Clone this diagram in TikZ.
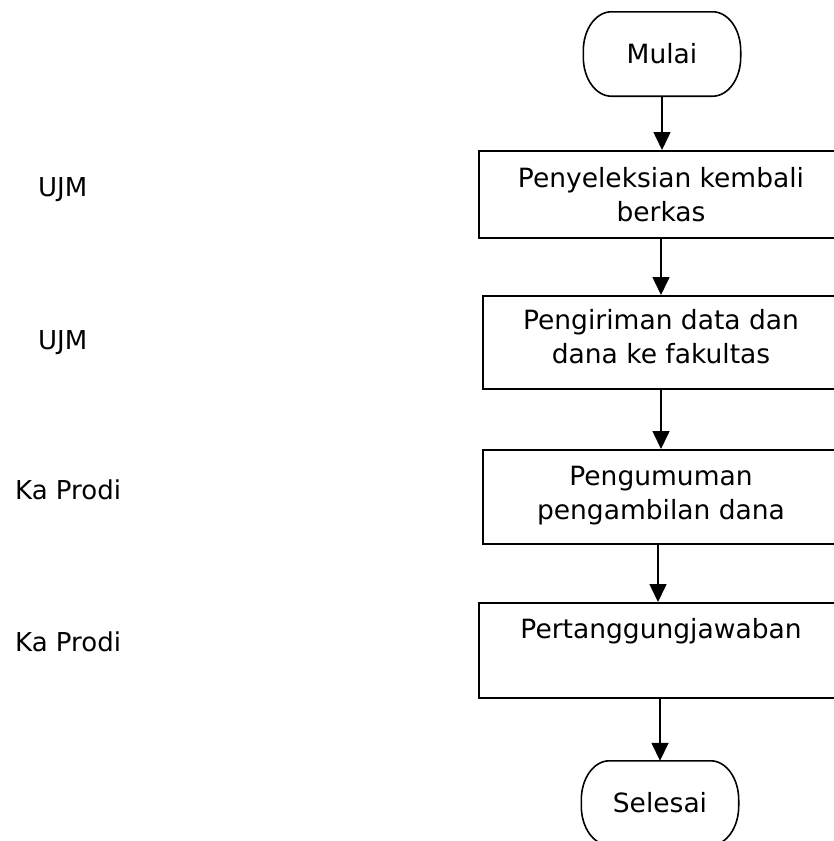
\documentclass[tikz,border=0pt]{standalone}
\usepackage{fontspec}
\setmainfont{DejaVu Sans}
\usetikzlibrary{arrows.meta}
\begin{document}
\begin{tikzpicture}[x=1pt,y=-1pt,
  every node/.style={font=\fontsize{26.5}{34}\selectfont},
  term/.style={minimum width=157pt, minimum height=84pt, inner sep=0pt},
  termline/.style={line width=1.6pt},
  procbox/.style={draw, line width=1.6pt, inner sep=0pt, anchor=north west},
  lbl/.style={anchor=base west, inner sep=0pt, font=\fontsize{26}{30}\selectfont},
  txt/.style={align=center, inner sep=0pt},
  flow/.style={-{Triangle[width=17pt,length=18pt]}, line width=1.6pt},
  crx/.store in=\crx, crx=28pt,
  cry/.store in=\cry, cry=39pt]
\useasboundingbox (0,0) rectangle (834,841);
\clip (0,0) rectangle (834,841);

% terminals
\node[term] (m) at (662,54) {Mulai};
\node[term] (s) at (660,803) {Selesai};
\foreach \t in {m,s}{
  \draw[termline] ([xshift=\crx]\t.north west) -- ([xshift=-\crx]\t.north east)
    arc[start angle=90, end angle=0, x radius=\crx, y radius=\cry]
    -- ([yshift=\cry]\t.south east)
    arc[start angle=0, end angle=-90, x radius=\crx, y radius=\cry]
    -- ([xshift=\crx]\t.south west)
    arc[start angle=270, end angle=180, x radius=\crx, y radius=\cry]
    -- ([yshift=-\cry]\t.north west)
    arc[start angle=180, end angle=90, x radius=\crx, y radius=\cry]
    -- cycle;
}

% process boxes (right edges run past the picture)
\node[procbox, minimum width=372pt, minimum height=87pt] (b1) at (478,150) {};
\node[procbox, minimum width=368pt, minimum height=93pt] (b2) at (482,295) {};
\node[procbox, minimum width=368pt, minimum height=94pt] (b3) at (482,449) {};
\node[procbox, minimum width=372pt, minimum height=95pt] (b4) at (478,602) {};

% box texts
\node[txt, anchor=north] (t1) at (661,167) {Penyeleksian kembali\\berkas};
\node[txt, anchor=north] (t2) at (661,309) {Pengiriman data dan\\dana ke fakultas};
\node[txt, anchor=north] (t3) at (661,466) {Pengumuman\\pengambilan dana};
\node[txt, anchor=base] (t4) at (661,638) {Pertanggungjawaban};

% left labels
\node[lbl] (l1) at (38,196) {UJM};
\node[lbl] (l2) at (38,349) {UJM};
\node[lbl] (l3) at (15,499) {Ka Prodi};
\node[lbl] (l4) at (15,651) {Ka Prodi};

% connectors
\draw[flow] (m.south) -- (m.south |- b1.north);
\draw[flow] (t1 |- b1.south) -- (t1 |- b2.north);
\draw[flow] (t2 |- b2.south) -- (t2 |- b3.north);
\draw[flow] ([xshift=-3pt]t3.center |- b3.south) -- ([xshift=-3pt]t3.center |- b4.north);
\draw[flow] ([xshift=-1pt]t4.base |- b4.south) -- ([xshift=-1pt]t4.base |- s.north);
\end{tikzpicture}
\end{document}
